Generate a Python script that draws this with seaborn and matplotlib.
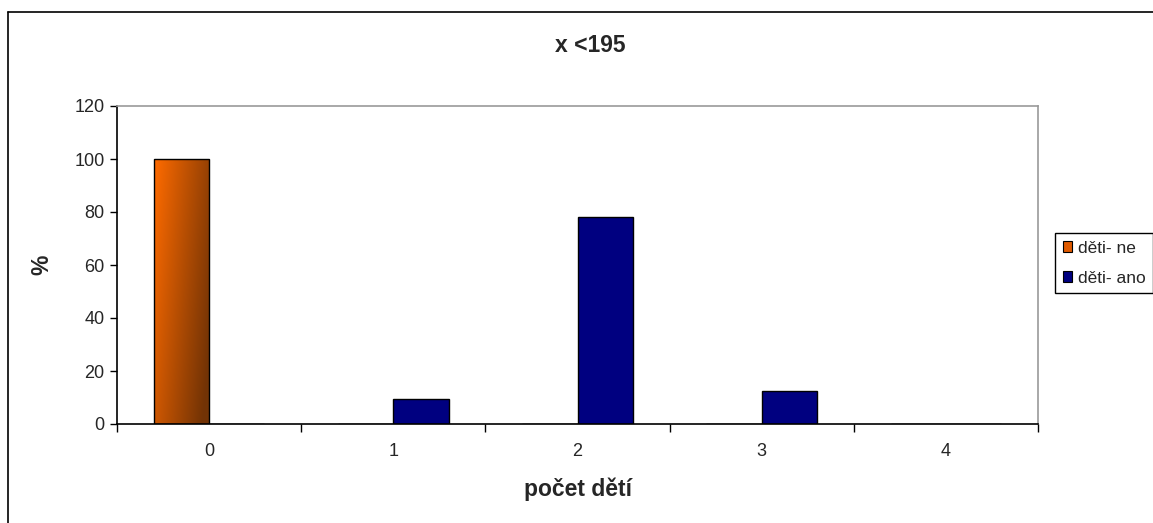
import numpy as np
import pandas as pd
import matplotlib
matplotlib.use("Agg")
import matplotlib.pyplot as plt
from matplotlib.lines import Line2D
from matplotlib.ticker import FixedLocator
import seaborn as sns

categories = ["0", "1", "2", "3", "4"]
deti_ne = [100, 0, 0, 0, 0]
deti_ano = [0, 9.5, 78, 12.5, 0]
series_names = ["děti- ne", "děti- ano"]
title = "x <195"
x_label = "počet dětí"
y_label = "%"

df = pd.DataFrame({
    "kategorie": categories * 2,
    "hodnota": deti_ne + deti_ano,
    "skupina": [series_names[0]] * len(categories) + [series_names[1]] * len(categories),
})

sns.set_style("white")
plt.rcParams["font.family"] = ["Liberation Sans", "DejaVu Sans"]

fig = plt.figure(figsize=(11.53, 5.23), dpi=100)
ax = fig.add_axes([117 / 1153, 99 / 523, 921 / 1153, 318 / 523])

palette = {series_names[0]: "#FF6600", series_names[1]: "#000080"}
sns.barplot(data=df, x="kategorie", y="hodnota", hue="skupina", order=categories,
            hue_order=series_names, palette=palette, width=0.6, dodge=True,
            edgecolor="black", linewidth=1.0, saturation=1, ax=ax, legend=False)

# orange-to-brown diagonal gradient on the first series
n_cat = len(categories)
grad_x = np.linspace(0, 1, 64)
grad_y = np.linspace(0, 1, 256)
gx, gy = np.meshgrid(grad_x, grad_y)
t = np.clip(0.75 * gx + 0.35 * gy, 0, 1)
c0 = np.array([1.0, 0.42, 0.0])
c1 = np.array([0.45, 0.2, 0.02])
img = c0[None, None, :] * (1 - t[..., None]) + c1[None, None, :] * t[..., None]
for patch in ax.patches[:n_cat]:
    h = patch.get_height()
    if h <= 0:
        continue
    x0 = patch.get_x()
    w = patch.get_width()
    im = ax.imshow(img, extent=[x0, x0 + w, 0, h], origin="upper", aspect="auto",
                   zorder=patch.get_zorder() - 0.1, interpolation="bilinear")
    im.set_clip_path(patch)
    patch.set_facecolor("none")
    patch.set_zorder(patch.get_zorder() + 0.2)

ax.set_xlim(-0.5, n_cat - 0.5)
ax.set_ylim(0, 120)
ax.set_yticks(np.arange(0, 121, 20))
ax.tick_params(axis="y", which="major", length=5, width=1, color="black",
               labelsize=13, pad=4, left=True)
ax.tick_params(axis="x", which="major", length=0, labelsize=13, pad=14)
ax.xaxis.set_minor_locator(FixedLocator(np.arange(-0.5, n_cat, 1.0)))
ax.tick_params(axis="x", which="minor", length=6, width=1, color="black", bottom=True)

for side in ["left", "bottom"]:
    ax.spines[side].set_color("black")
    ax.spines[side].set_linewidth(1.2)
for side in ["top", "right"]:
    ax.spines[side].set_color("#999999")
    ax.spines[side].set_linewidth(1.2)

ax.set_xlabel(x_label, fontsize=16.5, fontweight="bold", labelpad=12)
ax.set_ylabel(y_label, fontsize=16.5, fontweight="bold")
ax.yaxis.set_label_coords((53 - 117) / 921, 0.5)
fig.text(590 / 1153, 1 - 46 / 523, title, ha="center", va="center",
         fontsize=16.5, fontweight="bold")

# chart outer frame
fig.add_artist(Line2D([8 / 1153, 8 / 1153], [0, 1 - 12 / 523], transform=fig.transFigure,
                      color="black", linewidth=1.2))
fig.add_artist(Line2D([8 / 1153, 1], [1 - 12 / 523, 1 - 12 / 523], transform=fig.transFigure,
                      color="black", linewidth=1.2))

handles = [
    plt.Rectangle((0, 0), 1, 1, facecolor="#E05A00", edgecolor="black", linewidth=0.8),
    plt.Rectangle((0, 0), 1, 1, facecolor="#000080", edgecolor="black", linewidth=0.8),
]
fig.legend(handles, series_names, loc="upper left",
           bbox_to_anchor=(1055 / 1153, 1 - 233 / 523), fontsize=12.5,
           frameon=True, fancybox=False, edgecolor="black", framealpha=1,
           handlelength=0.55, handleheight=0.55, handletextpad=0.3,
           borderpad=0.45, labelspacing=0.85, borderaxespad=0)

fig.savefig("out.png", dpi=100)
